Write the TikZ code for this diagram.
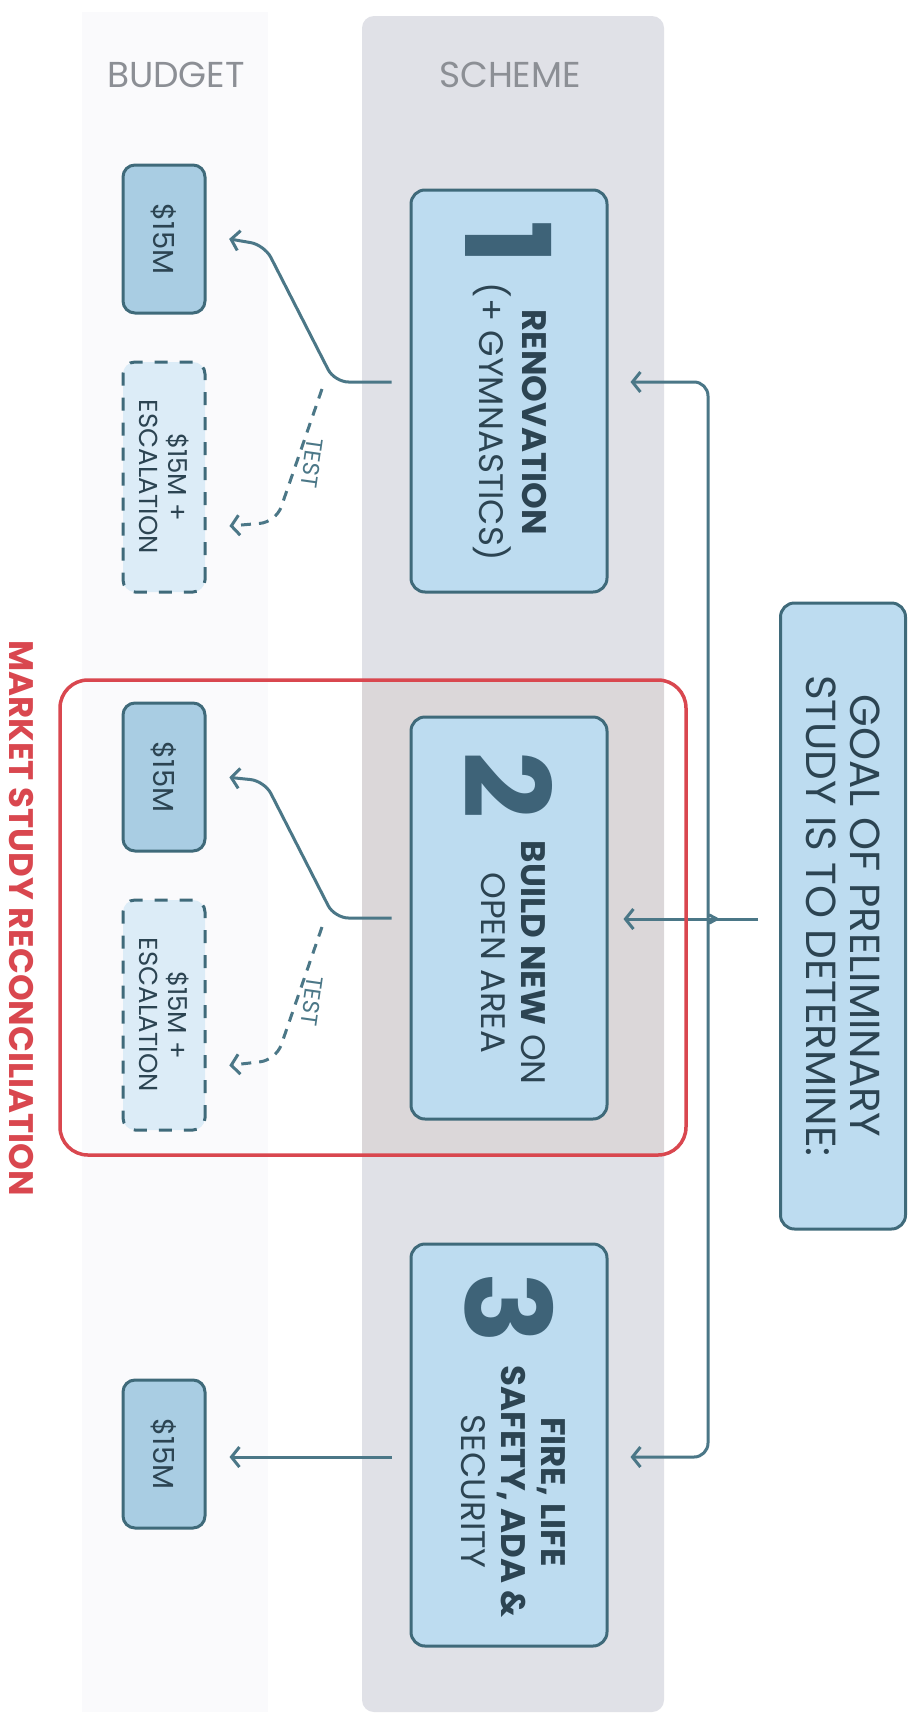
\documentclass[tikz,border=0pt]{standalone}
\usepackage{fontspec}
\setmainfont{Poppins}
\usetikzlibrary{positioning, arrows.meta, fit}

\definecolor{bandgrey}{HTML}{E0E1E7}
\definecolor{bandwarm}{HTML}{DBD7D9}
\definecolor{budgetgrey}{HTML}{FAFAFC}
\definecolor{boxblue}{HTML}{BDDCF0}
\definecolor{budblue}{HTML}{A9CDE3}
\definecolor{escblue}{HTML}{DCECF7}
\definecolor{boxedge}{HTML}{3F6A7A}
\definecolor{lineteal}{HTML}{4B7787}
\definecolor{textdark}{HTML}{2C4452}
\definecolor{numteal}{HTML}{3E6378}
\definecolor{headgrey}{HTML}{8C8F95}
\definecolor{reconred}{HTML}{D9474F}

\newcommand{\bignum}{\fontsize{118}{118}\selectfont\bfseries\color{numteal}}

\tikzstyle{scheme} = [rectangle, rounded corners=14pt, rotate=-90, minimum width=402pt, minimum height=196pt, inner sep=0pt, fill=boxblue, draw=boxedge, line width=3pt, text=textdark, font=\fontsize{34}{40}\selectfont]
\tikzstyle{goalbox} = [rectangle, rounded corners=14pt, rotate=-90, minimum width=626pt, minimum height=125pt, fill=boxblue, draw=boxedge, line width=3pt, text=textdark, align=center, font=\fontsize{42}{44}\selectfont]
\tikzstyle{budget} = [rectangle, rounded corners=12pt, rotate=-90, minimum width=148pt, minimum height=82pt, fill=budblue, draw=boxedge, line width=3pt, text=textdark, font=\fontsize{29}{30}\selectfont]
\tikzstyle{escbox} = [rectangle, rounded corners=12pt, rotate=-90, minimum width=230pt, minimum height=82pt, fill=escblue, draw=boxedge, line width=3pt, dash pattern=on 13pt off 12pt, text=textdark, align=center, font=\fontsize{26}{29}\selectfont]
\tikzstyle{heading} = [text=headgrey, font=\fontsize{36}{36}\selectfont]
\tikzstyle{testlabel} = [text=lineteal, font=\fontsize{23}{23}\selectfont, rotate=-98, inner sep=0pt]
\tikzstyle{arrow} = [draw=lineteal, line width=3pt, -{Straight Barb[length=8pt,width=20pt]}]
\tikzstyle{testarrow} = [arrow, dash pattern=on 10pt off 8pt]
\tikzstyle{reconbox} = [draw=reconred, line width=3.5pt, rounded corners=28pt, inner sep=0pt]

\begin{document}
\begin{tikzpicture}[x=1pt, y=1pt, node distance=527pt]

\useasboundingbox (0,0) rectangle (914,-1721);
\fill[white] (0,0) rectangle (914,-1721);

% columns
\fill[budgetgrey] (82,-12) rectangle (268,-1712);
\fill[bandgrey, rounded corners=12pt] (362,-16) rectangle (664,-1712);
\fill[bandwarm] (362,-680) rectangle (664,-1155);

\node (budgethead) [heading] at (176,-75) {BUDGET};
\node (schemehead) [heading] at (510,-75) {SCHEME};

% schemes
\node (box1) [scheme] at (509,-391) {$\vcenter{\hbox{\bignum 1}}$\hspace{18pt}$\vcenter{\hbox{\begin{tabular}{@{}c@{}}\bfseries RENOVATION\\(+ GYMNASTICS)\end{tabular}}}$};
\node (box2) [below of=box1, scheme] {$\vcenter{\hbox{\bignum 2}}$\hspace{22pt}$\vcenter{\hbox{\begin{tabular}{@{}c@{}}{\bfseries BUILD NEW} ON\\OPEN AREA\end{tabular}}}$};
\node (box3) [below of=box2, scheme] {$\vcenter{\hbox{\bignum 3}}$\hspace{22pt}$\vcenter{\hbox{\begin{tabular}{@{}c@{}}\bfseries FIRE, LIFE\\\bfseries SAFETY, ADA \&\\SECURITY\end{tabular}}}$};

\node (goal) [goalbox] at (843,-916) {GOAL OF PRELIMINARY\\STUDY IS TO DETERMINE:};

% budgets
\node (bud1) [budget] at (164,-239) {\$15M};
\node (esc1) [escbox] at (164,-477) {\$15M +\\ESCALATION};
\node (bud2) [budget] at (164,-777) {\$15M};
\node (esc2) [escbox] at (164,-1015) {\$15M +\\ESCALATION};
\node (bud3) [budget] at (164,-1454) {\$15M};

\coordinate (fork) at (717,-919);
\coordinate (t1) at (322,-389);
\coordinate (t2) at (322,-927);

\draw [arrow, shorten <=21pt, shorten >=15pt] (goal.south |- fork) -- (box2.north |- fork);
\draw [arrow, rounded corners=14pt, shorten >=22pt] (fork) to[out=160,in=-90] ++(-9pt,14pt) |- ([yshift=9pt]box1.north);
\draw [arrow, rounded corners=14pt, shorten >=22pt] (fork) to[out=200,in=90] ++(-9pt,-14pt) |- ([yshift=-12pt]box3.north);

\draw [arrow, rounded corners=14pt, shorten <=18pt, shorten >=23pt] ([yshift=9pt]box1.south) -- ++(-75pt,0) -- ++(-70pt,137pt) -- ([yshift=4pt]bud1.north);
\draw [testarrow, rounded corners=16pt, shorten >=23pt] (t1) -- (276,-522) -- ([yshift=-51pt]esc1.north);
\node (test1) [testlabel] at (312,-463) {TEST};

\draw [arrow, rounded corners=14pt, shorten <=18pt, shorten >=23pt] (box2.south) -- ++(-75pt,0) -- ++(-70pt,137pt) -- ([yshift=2pt]bud2.north);
\draw [testarrow, rounded corners=16pt, shorten >=23pt] (t2) -- (276,-1060) -- ([yshift=-53pt]esc2.north);
\node (test2) [testlabel] at (312,-1001) {TEST};

\draw [arrow, shorten <=18pt, shorten >=23pt] ([yshift=-12pt]box3.south) -- ([yshift=-3pt]bud3.north);

\coordinate (rtl) at (60,-680);
\coordinate (rbr) at (686,-1155);
\node (recon) [reconbox, fit=(rtl) (rbr)] {};
\node (recontext) [rotate=-90, text=reconred, font=\fontsize{34}{34}\selectfont\bfseries] at (21,-918) {MARKET STUDY RECONCILIATION};

\end{tikzpicture}
\end{document}
